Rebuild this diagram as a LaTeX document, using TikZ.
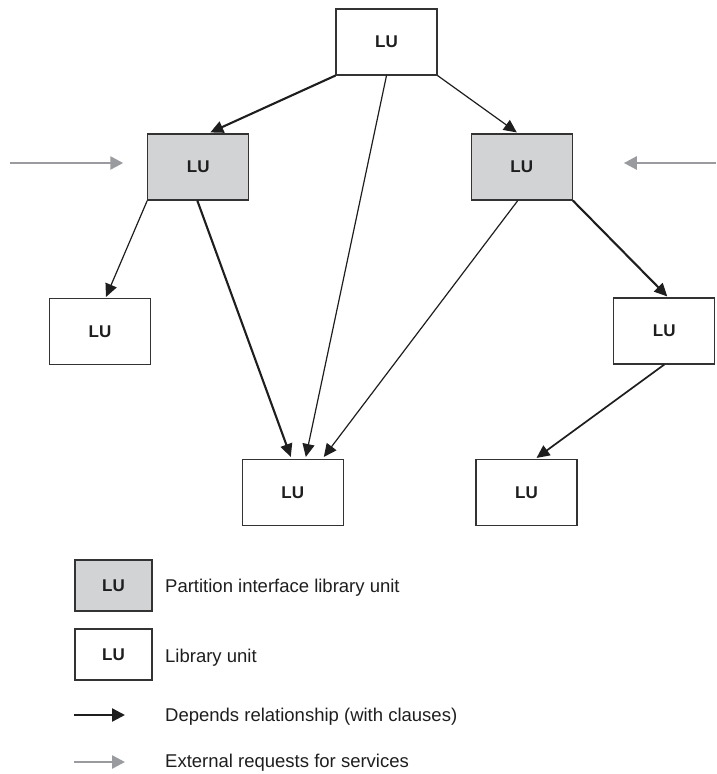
\documentclass[tikz,border=0pt]{standalone}
\usepackage{fontspec}
\setmainfont{Liberation Sans}
\usetikzlibrary{arrows.meta}
\definecolor{pilfill}{HTML}{D2D3D5}
\definecolor{reqgray}{HTML}{9A9B9E}
\definecolor{frame}{HTML}{333333}
\definecolor{ink}{HTML}{1E1E1E}

\begin{document}
\begin{tikzpicture}[x=1pt,y=-1pt,
  unit/.style={draw=frame, line width=1.1pt, fill=white,
    minimum width=101pt, minimum height=66pt, inner sep=0pt,
    font=\fontsize{17}{17}\selectfont\bfseries, text=ink},
  pil/.style={unit, fill=pilfill},
  keybox/.style={minimum width=77pt, minimum height=51pt},
  dep/.style={-{Triangle[length=13pt,width=12pt]}, line width=1.2pt, draw=ink},
  depthick/.style={dep, line width=2.1pt},
  depmid/.style={dep, line width=1.7pt},
  req/.style={-{Triangle[length=13pt,width=13pt]}, line width=2.6pt, draw=reqgray},
  keytext/.style={anchor=base west, inner sep=0pt,
    font=\fontsize{18.5}{20}\selectfont, text=ink}
]
\useasboundingbox (0,0) rectangle (716,774);

% library units
\node[unit] (top) at (386.5,42)    {LU};
\node[pil]  (lg)  at (198.3,167)   {LU};
\node[pil]  (rg)  at (521.8,167)   {LU};
\node[unit] (l)   at (100,331.5)   {LU};
\node[unit] (r)   at (664.3,331)   {LU};
\node[unit] (bm)  at (292.8,492.5) {LU};
\node[unit] (br)  at (526.5,492.5) {LU};

% with-clause dependencies
\draw[depthick] (top.south west) -- ([xshift=12pt,yshift=1pt]lg.north);
\draw[dep]      (top.south east) -- ([xshift=-5pt,yshift=1pt]rg.north);
\draw[dep]      (top.south)      -- ([xshift=13pt,yshift=2pt]bm.north);
\draw[dep]      (lg.south west)  -- ([xshift=6pt,yshift=1pt]l.north);
\draw[depthick] ([xshift=-1pt]lg.south) -- ([xshift=-2pt,yshift=2pt]bm.north);
\draw[dep]      ([xshift=-4pt]rg.south) -- ([xshift=31pt,yshift=2pt]bm.north);
\draw[depthick] (rg.south east)  -- ([xshift=3pt,yshift=1pt]r.north);
\draw[depmid]   (r.south)        -- ([xshift=10pt,yshift=1pt]br.north);

% external service requests
\coordinate (inL) at (10,163);
\coordinate (inR) at (716,163);
\draw[req] (inL) -- ([xshift=-24pt,yshift=4pt]lg.west);
\draw[req] (inR) -- ([xshift=51pt,yshift=4pt]rg.east);

% key
\node[pil,keybox]  (kp) at (113.5,585.5) {LU};
\node[unit,keybox] (ku) at (113.5,654.5) {LU};
\node[keytext] (tp) at (165,592.7) {Partition interface library unit};
\node[keytext] (tu) at (165,662)   {Library unit};
\node[keytext] (td) at (165,721)   {Depends relationship (with clauses)};
\node[keytext] (te) at (165,767.5) {External requests for services};
\coordinate (kd1) at (74,715);
\coordinate (kd2) at (125,715);
\coordinate (ke1) at (74,762);
\coordinate (ke2) at (125,762);
\draw[dep, line width=2.4pt, -{Triangle[length=13pt,width=13pt]}] (kd1) -- (kd2);
\draw[req] (ke1) -- (ke2);
\end{tikzpicture}
\end{document}
